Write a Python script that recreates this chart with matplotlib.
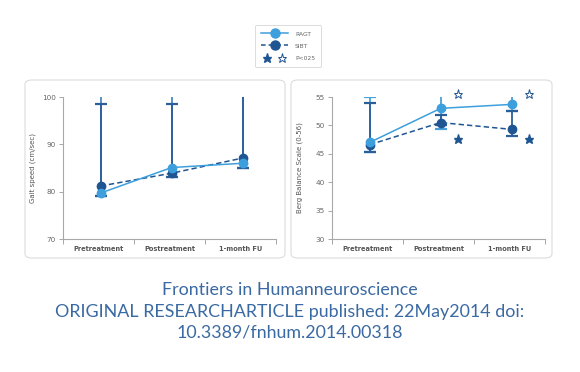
import matplotlib
matplotlib.use("Agg")
import matplotlib.pyplot as plt
from matplotlib.lines import Line2D
from matplotlib.patches import FancyBboxPatch
from matplotlib.legend_handler import HandlerTuple

# ---------------- data ----------------
categories = ["Pretreatment", "Postreatment", "1-month FU"]

gait_ragt = [79.7, 85.1, 86.0]
gait_sibt = [81.2, 83.9, 87.1]
gait_ragt_lo = [79.0, 83.2, 85.1]
gait_ragt_hi = [103.0, 103.0, 103.0]
gait_sibt_lo = [79.0, 83.2, 85.1]
gait_sibt_hi = [98.5, 98.5, 103.0]

berg_ragt = [47.0, 53.0, 53.7]
berg_sibt = [46.6, 50.5, 49.3]
berg_ragt_lo = [45.4, 49.3, 52.6]
berg_ragt_hi = [55.0, 56.5, 56.5]
berg_sibt_lo = [45.4, 50.0, 48.1]
berg_sibt_hi = [53.9, 51.8, 52.6]

# significance stars (category index, value)
star_open_idx = [1, 2]
star_open_val = [55.5, 55.5]
star_filled_idx = [1, 2]
star_filled_val = [47.6, 47.6]

gait_ticks = [70, 80, 90, 100]
berg_ticks = [30, 35, 40, 45, 50, 55]

# ---------------- style ----------------
LIGHT = "#3d9fdc"
DARK = "#1f5592"
ERR_DARK = "#2b5f9a"
AXC = "#a8a8a8"
TXT = "#555555"

W, H = 580, 372
fig = plt.figure(figsize=(W / 100, H / 100), dpi=100)
fig.patch.set_facecolor("white")


def px_box(x0, y0, x1, y1):
    return [x0 / W, 1 - y1 / H, (x1 - x0) / W, (y1 - y0) / H]


# panel frames
for (x0, y0, x1, y1) in [(25, 80, 285, 258), (291, 80, 552, 258)]:
    b = px_box(x0, y0, x1, y1)
    fig.patches.append(FancyBboxPatch((b[0], b[1]), b[2], b[3],
                                      boxstyle="round,pad=0,rounding_size=0.012",
                                      transform=fig.transFigure, facecolor="white",
                                      edgecolor="#dcdcdc", linewidth=0.8, zorder=-5))

axL = fig.add_axes(px_box(63, 97, 276, 239))
axR = fig.add_axes(px_box(332, 97, 545, 239))
axL.set_zorder(3)
axR.set_zorder(3)


def err(ax, x, mean, lo, hi, color):
    lower = [m - l for m, l in zip(mean, lo)]
    upper = [h - m for m, h in zip(mean, hi)]
    ax.errorbar(x, mean, yerr=[lower, upper], fmt="none", ecolor=color,
                elinewidth=1.3, capsize=4.3, capthick=1.6, zorder=2)


def style(ax, ylim, ticks, ylabel, lab_x):
    ax.set_facecolor("none")
    ax.set_xlim(-0.5, 2.5)
    ax.set_ylim(*ylim)
    for s in ["top", "right"]:
        ax.spines[s].set_visible(False)
    for s in ["left", "bottom"]:
        ax.spines[s].set_color(AXC)
        ax.spines[s].set_linewidth(0.8)
    ax.set_yticks(ticks)
    ax.set_yticklabels([str(t) for t in ticks])
    ax.tick_params(axis="y", direction="out", length=3, width=0.7, color=AXC,
                   labelsize=5.2, labelcolor="#666666", pad=2)
    ax.set_xticks(range(len(categories)))
    ax.set_xticklabels(categories, fontsize=4.8, fontweight="bold", color=TXT)
    ax.tick_params(axis="x", which="major", length=0, pad=5)
    ax.set_xticks([-0.5, 0.5, 1.5, 2.5], minor=True)
    ax.tick_params(axis="x", which="minor", direction="out", length=3.5,
                   width=0.7, color=AXC)
    ax.set_ylabel(ylabel, fontsize=5, color=TXT)
    ax.yaxis.set_label_coords(lab_x, 0.5)


x = list(range(len(categories)))
xs = [i + 0.03 for i in x]

# Left: gait speed
err(axL, xs, gait_ragt, gait_ragt_lo, gait_ragt_hi, "#4f86c0")
err(axL, xs, gait_sibt, gait_sibt_lo, gait_sibt_hi, ERR_DARK)
axL.plot(xs, gait_sibt, color=DARK, ls=(0, (3.5, 2)), lw=1.1, marker="o",
         ms=6, zorder=3)
axL.plot(xs, gait_ragt, color=LIGHT, ls="-", lw=1.1, marker="o", ms=6,
         zorder=4)
style(axL, (70, 100), gait_ticks, "Gait speed (cm/sec)", -0.127)

# Right: Berg balance
err(axR, xs, berg_ragt, berg_ragt_lo, berg_ragt_hi, "#4aa0d8")
err(axR, xs, berg_sibt, berg_sibt_lo, berg_sibt_hi, ERR_DARK)
axR.plot(xs, berg_sibt, color=DARK, ls=(0, (3.5, 2)), lw=1.1, marker="o",
         ms=6, zorder=3)
axR.plot(xs, berg_ragt, color=LIGHT, ls="-", lw=1.1, marker="o", ms=6,
         zorder=4)
axR.plot([i + 0.27 for i in star_open_idx], star_open_val, ls="none",
         marker="*", ms=6.5, mfc="white", mec=DARK, mew=0.7, clip_on=False,
         zorder=5)
axR.plot([i + 0.27 for i in star_filled_idx], star_filled_val, ls="none",
         marker="*", ms=6.5, color=DARK, clip_on=False, zorder=5)
style(axR, (30, 55), berg_ticks, "Berg Balance Scale (0-56)", -0.136)

# Legend
h_ragt = Line2D([], [], color=LIGHT, lw=1.1, marker="o", ms=6.5)
h_sibt = Line2D([], [], color=DARK, lw=1.1, ls=(0, (3, 2)), marker="o", ms=6.5)
h_s1 = Line2D([], [], ls="none", marker="*", ms=6.5, color=DARK)
h_s2 = Line2D([], [], ls="none", marker="*", ms=6.5, mfc="white", mec=DARK, mew=0.7)
leg = fig.legend([h_ragt, h_sibt, (h_s1, h_s2)], ["RAGT", "SIBT", "P<025"],
                 handler_map={tuple: HandlerTuple(ndivide=None, pad=0.2)},
                 loc="center", bbox_to_anchor=(288 / W, 1 - 46 / H),
                 fontsize=4.3, numpoints=1, handlelength=4.6, handletextpad=1.1,
                 labelspacing=1.15, borderpad=1.0, fancybox=True, frameon=True)
leg.get_frame().set_edgecolor("#cccccc")
leg.get_frame().set_linewidth(0.6)
for t in leg.get_texts():
    t.set_color("#666666")

# Bottom caption
cap = ["Frontiers in Humanneuroscience",
       "ORIGINAL RESEARCHARTICLE published: 22May2014 doi:",
       "10.3389/fnhum.2014.00318"]
for i, line in enumerate(cap):
    fig.text(0.5, 1 - (290 + 21.5 * i) / H, line, ha="center", va="center",
             fontsize=12.9, color="#3a6aa3", family="Lato")

fig.savefig("out.png", dpi=100, facecolor="white")
